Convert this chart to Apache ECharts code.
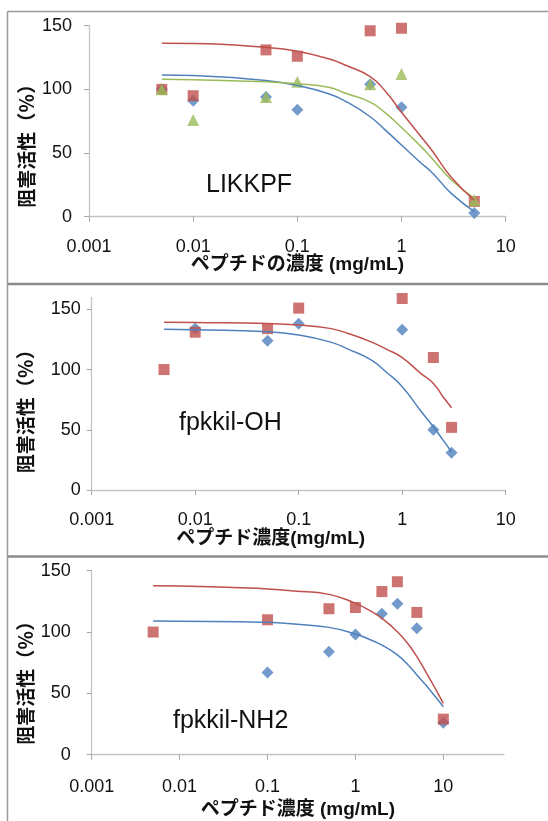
<!DOCTYPE html>
<html>
<head>
<meta charset="utf-8">
<script src="https://cdn.jsdelivr.net/npm/echarts@6/dist/echarts.min.js"></script>
<style>
  html, body { margin: 0; padding: 0; background: #fff; }
  #main { width: 548px; height: 821px; }
</style>
</head>
<body>
<div id="main"></div>
<script>
// ---- data ----
// panel 1 : LIKKPF
var conc1 = [0.005, 0.01, 0.05, 0.1, 0.5, 1, 5];
var likkpfBlue = [100, 91, 94, 84, 104, 86, 3];
var likkpfRed = [100, 95, 131, 126, 146, 148, 12];
var likkpfGreen = [100, 76, 94, 106, 104, 112, 13];
var fitX1 = [0.005, 0.01, 0.05, 0.1, 0.2, 0.3, 0.5, 0.7, 1, 1.5, 2, 3, 5];
var likkpfBlueFit = [111.3, 110.8, 107, 103, 96.5, 90, 78.5, 68, 56.3, 43, 34, 18.3, 4];
var likkpfRedFit = [136.2, 136, 133, 130, 124, 118.5, 110, 98.5, 82, 64, 51, 31, 13];
var likkpfGreenFit = [107.9, 107.6, 106, 104.5, 101.6, 96.5, 90, 81.5, 70, 56, 45, 29, 14.4];

// panel 2 : fpkkil-OH
var concOHRed = [0.005, 0.01, 0.05, 0.1, 1, 2, 3];
var ohRed = [100, 131, 134, 151, 159, 110, 52];
var concOHBlue = [0.01, 0.05, 0.1, 1, 2, 3];
var ohBlue = [134, 124, 138, 133, 50, 31];
var fitX2 = [0.005, 0.01, 0.05, 0.1, 0.2, 0.3, 0.5, 0.7, 1, 1.5, 2, 2.5, 3];
var ohRedFit = [139.2, 139, 138.2, 137, 134.2, 130, 123, 117, 110, 97, 88.5, 77, 68.3];
var ohBlueFit = [133.4, 133, 131.4, 128.7, 123, 117, 108, 98, 85.8, 66, 52.5, 41, 31.8];

// panel 3 : fpkkil-NH2
var concNHRed = [0.005, 0.1, 0.5, 1, 2, 3, 5, 10];
var nhRed = [100, 110, 119, 120, 133, 141, 116, 29];
var concNHBlue = [0.1, 0.5, 1, 2, 3, 5, 10];
var nhBlue = [67, 84, 98, 115, 123, 103, 26];
var fitX3 = [0.005, 0.01, 0.05, 0.1, 0.2, 0.5, 1, 1.5, 2, 3, 4, 5, 7, 10];
var nhRedFit = [137.8, 137.5, 136, 135.1, 133.5, 130.7, 123.4, 117, 111.2, 100.3, 90, 79.9, 62, 41.9];
var nhBlueFit = [109, 108.8, 108.3, 107.9, 106.5, 103.8, 98.4, 93.5, 89.4, 81.3, 73, 65, 53, 39.1];

var titles = ['LIKKPF', 'fpkkil-OH', 'fpkkil-NH2'];
var xNames = ['ペプチドの濃度 (mg/mL)', 'ペプチド濃度(mg/mL)', 'ペプチド濃度 (mg/mL)'];
var yName = '阻害活性（％）';

var BLUE = '#4F81BD', RED = '#C0504D', GREEN = '#9BBB59';
var FONT = "'Liberation Sans', 'Noto Sans CJK JP', sans-serif";

function pairs(xs, ys) {
    return xs.map(function (x, i) { return [x, ys[i]]; });
}

var chart = echarts.init(document.getElementById('main'));

function xAxisFor(idx, max, nameGap, labelMargin, namePad) {
    return {
        type: 'log',
        logBase: 10,
        gridIndex: idx,
        min: 0.001,
        max: max,
        name: xNames[idx],
        nameLocation: 'middle',
        nameGap: nameGap,
        nameMoveOverlap: false,
        nameTextStyle: { fontFamily: FONT, fontSize: 19, fontWeight: 'bold', color: '#111', padding: namePad },
        axisLine: { lineStyle: { color: '#c4c4c4', width: 1.3 } },
        axisTick: { show: true, inside: false, length: 5, lineStyle: { color: '#a8a8a8' } },
        axisLabel: {
            fontFamily: FONT, fontSize: 18, color: '#111', margin: labelMargin,
            showMaxLabel: max === 10,
            formatter: function (v) { return String(+Number(v).toPrecision(6)); }
        },
        splitLine: { show: false }
    };
}

function yAxisFor(idx, max, labelMargin, nameGap, namePad) {
    return {
        type: 'value',
        gridIndex: idx,
        min: 0,
        max: max,
        interval: 50,
        name: yName,
        nameLocation: 'middle',
        nameGap: nameGap,
        nameMoveOverlap: false,
        nameTextStyle: { fontFamily: FONT, fontSize: 19, fontWeight: 'bold', color: '#111', padding: namePad },
        axisLine: { show: true, lineStyle: { color: '#c4c4c4', width: 1.3 } },
        axisTick: { show: true, length: 5, lineStyle: { color: '#a8a8a8' } },
        axisLabel: { fontFamily: FONT, fontSize: 18, color: '#111', margin: labelMargin, showMaxLabel: max === 150 },
        splitLine: { show: false }
    };
}

function dots(idx, name, xs, ys, symbol, size, color) {
    return {
        name: name, type: 'scatter', xAxisIndex: idx, yAxisIndex: idx,
        symbol: symbol, symbolSize: size,
        itemStyle: { color: color },
        data: pairs(xs, ys), z: 3
    };
}

function fit(idx, xs, ys, color) {
    return {
        type: 'line', xAxisIndex: idx, yAxisIndex: idx,
        smooth: 0.5, showSymbol: false,
        lineStyle: { color: color, width: 1.5 },
        data: pairs(xs, ys), z: 4
    };
}

var option = {
    animation: false,
    backgroundColor: '#fff',
    title: [
        { text: titles[0], left: 206, top: 173, padding: 0, textStyle: { fontFamily: FONT, fontSize: 25, fontWeight: 'normal', color: '#111' } },
        { text: titles[1], left: 179, top: 411, padding: 0, textStyle: { fontFamily: FONT, fontSize: 25, fontWeight: 'normal', color: '#111' } },
        { text: titles[2], left: 173, top: 709, padding: 0, textStyle: { fontFamily: FONT, fontSize: 25, fontWeight: 'normal', color: '#111' } }
    ],
    grid: [
        { left: 89, top: 25.7, width: 416.7, height: 191 },
        { left: 91.7, top: 297.3, width: 414, height: 192.7 },
        { left: 91.7, top: 570.7, width: 412.3, height: 184 }
    ],
    xAxis: [
        xAxisFor(0, 10, 39, 21, [0, 0, 0, 0]),
        xAxisFor(1, 10, 39, 21, [0, 56, 0, 0]),
        xAxisFor(2, 49, 46, 23, [0, 0, 0, 0])
    ],
    yAxis: [
        yAxisFor(0, 150, 17, 51, [0, 40, 0, 0]),
        yAxisFor(1, 160, 11, 54, [0, 26, 0, 0]),
        yAxisFor(2, 150, 21, 54, [0, 31, 0, 0])
    ],
    series: [
        dots(0, 'blue', conc1, likkpfBlue, 'diamond', 12, BLUE),
        dots(0, 'red', conc1, likkpfRed, 'rect', 11, RED),
        dots(0, 'green', conc1, likkpfGreen, 'triangle', 12, GREEN),
        fit(0, fitX1, likkpfBlueFit, BLUE),
        fit(0, fitX1, likkpfGreenFit, GREEN),
        fit(0, fitX1, likkpfRedFit, RED),

        dots(1, 'blue', concOHBlue, ohBlue, 'diamond', 12, BLUE),
        dots(1, 'red', concOHRed, ohRed, 'rect', 11, RED),
        fit(1, fitX2, ohBlueFit, BLUE),
        fit(1, fitX2, ohRedFit, RED),

        dots(2, 'blue', concNHBlue, nhBlue, 'diamond', 12, BLUE),
        dots(2, 'red', concNHRed, nhRed, 'rect', 11, RED),
        fit(2, fitX3, nhBlueFit, BLUE),
        fit(2, fitX3, nhRedFit, RED)
    ],
    // panel frames
    graphic: [
        { type: 'line', shape: { x1: 7.5, y1: 11.5, x2: 7.5, y2: 821 }, style: { stroke: '#9a9a9a', lineWidth: 1.5 } },
        { type: 'line', shape: { x1: 7.5, y1: 11.5, x2: 548, y2: 11.5 }, style: { stroke: '#9a9a9a', lineWidth: 1.5 } },
        { type: 'line', shape: { x1: 7.5, y1: 284, x2: 548, y2: 284 }, style: { stroke: '#8c8c8c', lineWidth: 2.5 } },
        { type: 'line', shape: { x1: 7.5, y1: 556.5, x2: 548, y2: 556.5 }, style: { stroke: '#8c8c8c', lineWidth: 2.5 } }
    ]
};

chart.setOption(option);
</script>
</body>
</html>
